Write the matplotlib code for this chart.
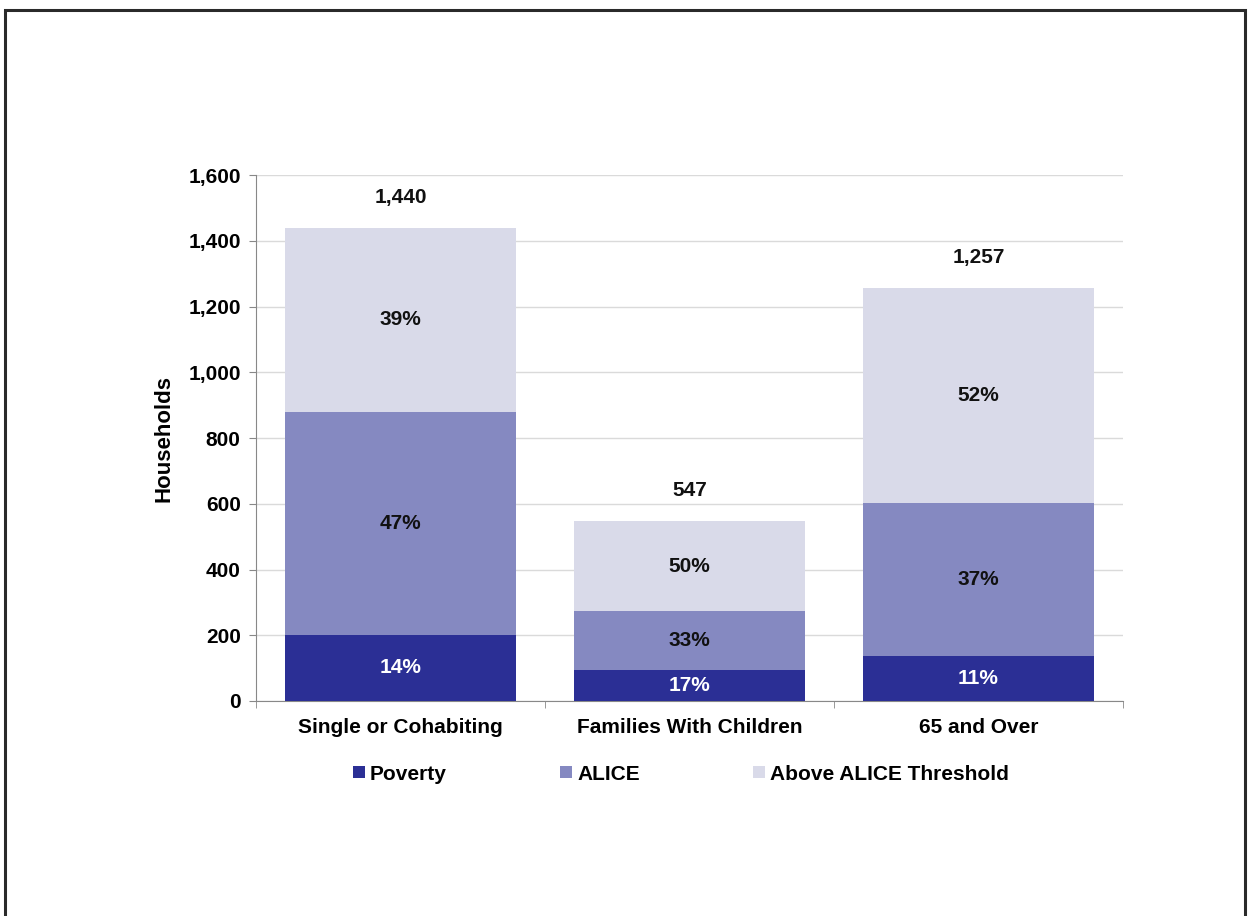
import matplotlib.pyplot as plt
from matplotlib.patches import Rectangle
from matplotlib.ticker import FuncFormatter

plt.rcParams['font.family'] = ['Liberation Sans', 'DejaVu Sans']
plt.rcParams['font.weight'] = 'bold'

categorias = ['Single or Cohabiting', 'Families With Children', '65 and Over']
totais = [1440, 547, 1257]
pct_pobreza = [14, 17, 11]
pct_alice = [47, 33, 37]
pct_acima = [39, 50, 52]
series = ['Poverty', 'ALICE', 'Above ALICE Threshold']
cores = ['#2B2F95', '#8589C1', '#D9DAE9']

pobreza = [t * p / 100 for t, p in zip(totais, pct_pobreza)]
alice = [t * p / 100 for t, p in zip(totais, pct_alice)]
acima = [t * p / 100 for t, p in zip(totais, pct_acima)]

fig = plt.figure(figsize=(12.48, 9.16), dpi=100)
ax = fig.add_axes([256 / 1248, 1 - 701 / 916, 867 / 1248, 526 / 916])

x = list(range(len(categorias)))
base2 = pobreza
base3 = [a + b for a, b in zip(pobreza, alice)]
b1 = ax.bar(x, pobreza, 0.8, color=cores[0], label=series[0], zorder=3)
b2 = ax.bar(x, alice, 0.8, bottom=base2, color=cores[1], label=series[1], zorder=3)
b3 = ax.bar(x, acima, 0.8, bottom=base3, color=cores[2], label=series[2], zorder=3)

# rotulos de porcentagem no meio de cada segmento
for i in x:
    ax.text(i, pobreza[i] / 2, f'{pct_pobreza[i]}%', ha='center', va='center',
            color='white', fontsize=15, fontweight='bold', zorder=4)
    ax.text(i, base2[i] + alice[i] / 2, f'{pct_alice[i]}%', ha='center', va='center',
            color='#111111', fontsize=15, fontweight='bold', zorder=4)
    ax.text(i, base3[i] + acima[i] / 2, f'{pct_acima[i]}%', ha='center', va='center',
            color='#111111', fontsize=15, fontweight='bold', zorder=4)
    ax.annotate(f'{totais[i]:,}', (i, totais[i]), xytext=(0, 22), textcoords='offset points',
                ha='center', va='center', fontsize=15, fontweight='bold', color='#111111')

ax.set_xlim(-0.5, 2.5)
ax.set_ylim(0, 1600)
ax.set_yticks(range(0, 1601, 200))
ax.yaxis.set_major_formatter(FuncFormatter(lambda v, p: f'{int(v):,}'))
ax.set_xticks(x)
ax.set_xticklabels(categorias)
ax.set_xticks([-0.5, 0.5, 1.5, 2.5], minor=True)
ax.tick_params(axis='x', which='major', length=0, pad=12, labelsize=15)
ax.tick_params(axis='x', which='minor', length=5, color='#888888', direction='out')
ax.tick_params(axis='y', length=5, color='#888888', labelsize=15, pad=6)
for lbl in ax.get_xticklabels() + ax.get_yticklabels():
    lbl.set_fontweight('bold')

ax.grid(axis='y', color='#DADADA', linewidth=1, zorder=0)
for lado in ['top', 'right']:
    ax.spines[lado].set_visible(False)
ax.spines['left'].set_color('#888888')
ax.spines['bottom'].set_color('#888888')

ax.set_ylabel('Households', fontsize=16, fontweight='bold', labelpad=10)

fig.legend(handles=[b1, b2, b3], labels=series, loc='center', ncol=3,
           bbox_to_anchor=(681 / 1248, 1 - 774 / 916), frameon=False,
           handlelength=0.55, handleheight=0.55, handletextpad=0.25,
           columnspacing=5.45, prop={'weight': 'bold', 'size': 15})

# moldura em volta da figura
fig.patches.append(Rectangle((5 / 1248, -0.05), 1240 / 1248, 1.05 - 10 / 916,
                             transform=fig.transFigure, fill=False,
                             edgecolor='#2a2a2a', linewidth=2.2))

fig.savefig('out.png', dpi=100)
